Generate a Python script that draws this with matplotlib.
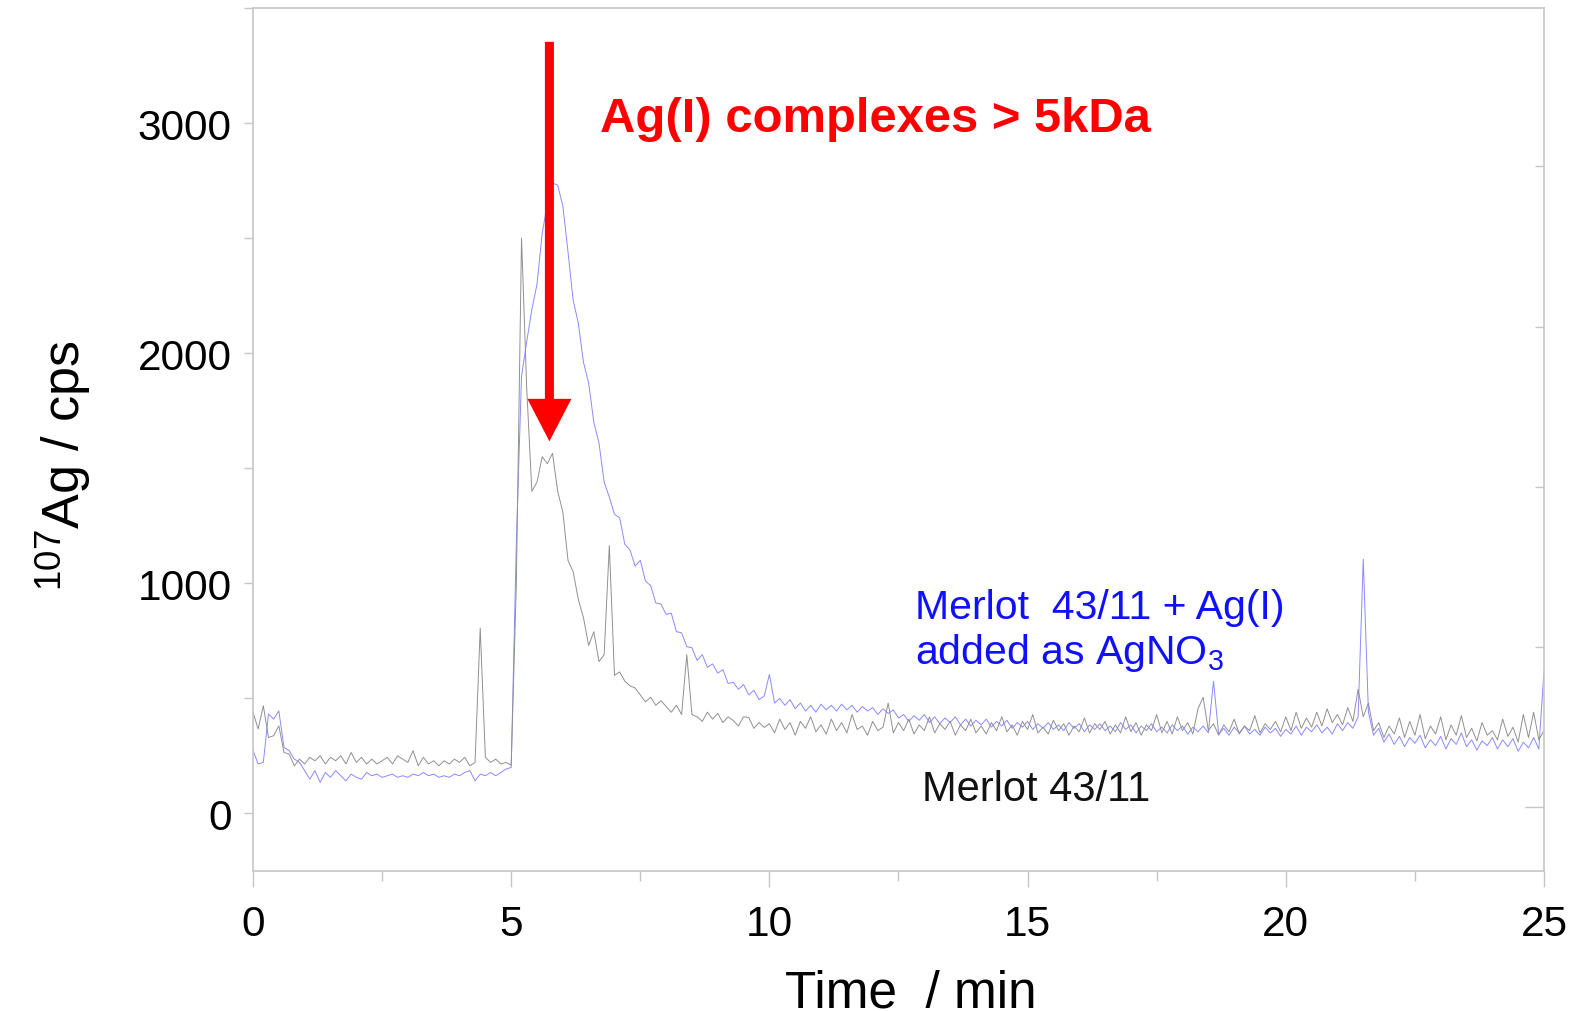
import numpy as np
import matplotlib
matplotlib.use("Agg")
import matplotlib.pyplot as plt
from matplotlib.ticker import MultipleLocator, FixedLocator, NullFormatter

plt.rcParams['font.family'] = ['Liberation Sans', 'DejaVu Sans']
plt.rcParams['mathtext.fontset'] = 'custom'
plt.rcParams['mathtext.rm'] = 'Liberation Sans'
plt.rcParams['mathtext.it'] = 'Liberation Sans:italic'
plt.rcParams['mathtext.bf'] = 'Liberation Sans:bold'

# sampling grid of the chromatograms (min)
time_min = np.round(np.arange(0, 25.01, 0.1), 1)

# Merlot 43/11 (grey trace), cps
merlot = (
    [440, 367, 468, 330, 338, 381, 265, 258, 207, 236,
     215, 244, 229, 251, 215, 244, 229, 251, 215, 265,
     222, 244, 215, 236, 215, 229, 244, 215, 251, 236,
     222, 273, 207, 244, 215, 229, 207, 229, 215, 236,
     222, 244, 207, 222, 805, 244, 222, 236, 215, 222]
    + [210, 1000, 2500, 1850, 1400, 1440, 1550, 1520, 1565, 1400,
       1310, 1100, 1050, 930, 850, 730, 790, 660, 690, 1164,
       600, 615, 575, 555, 545, 515, 485, 505, 470, 490,
       465, 440, 470, 430, 690, 430, 420, 400, 440, 410,
       435, 395, 420, 404, 380, 420, 417, 370, 395, 374]
    + [390, 350, 410, 365, 395, 340, 400, 370, 420, 355,
       385, 345, 410, 360, 395, 350, 430, 365, 380, 340,
       400, 360, 375, 480, 350, 395, 360, 410, 345, 385,
       360, 420, 350, 390, 365, 400, 340, 385, 360, 410,
       350, 380, 345, 395, 360, 420, 355, 385, 340, 400,
       365, 430, 350, 375, 345, 405, 360, 390, 340, 380,
       355, 415, 350, 390, 365, 400, 345, 385, 350, 420,
       355, 395, 340, 385, 360, 430, 350, 400, 345, 420,
       360, 395, 345, 455, 505, 360, 390, 340, 385, 355,
       410, 345, 380, 360, 425, 350, 390, 365, 400, 355,
       420, 360, 440, 370, 415, 375, 440, 380, 455, 395,
       430, 385, 460, 400, 540, 420, 480, 360, 395, 330,
       380, 345, 415, 330, 400, 340, 430, 325, 380, 345,
       420, 320, 385, 340, 425, 330, 370, 315, 395, 340,
       360, 320, 410, 335, 375, 310, 430, 330, 440, 320,
       360]
)

# Merlot 43/11 + Ag(I) added as AgNO3 (blue trace), cps
merlot_ag = (
    [273, 215, 222, 432, 410, 446, 287, 273, 236, 222,
     186, 149, 186, 135, 178, 157, 186, 164, 142, 171,
     157, 149, 178, 164, 171, 157, 164, 171, 157, 164,
     157, 171, 164, 178, 164, 171, 157, 164, 157, 171,
     164, 178, 186, 142, 171, 164, 178, 164, 178, 193]
    + [200, 1180, 1900, 2050, 2190, 2300, 2520, 2650, 2740, 2730,
       2640, 2440, 2230, 2130, 1960, 1870, 1700, 1610, 1440, 1375,
       1300, 1285, 1170, 1145, 1075, 1100, 1010, 990, 915, 910,
       865, 870, 790, 785, 725, 720, 665, 690, 635, 650,
       610, 625, 565, 570, 540, 560, 515, 535, 495, 510]
    + [604, 480, 500, 470, 495, 455, 480, 445, 470, 440,
       475, 450, 470, 445, 475, 450, 470, 440, 465, 445,
       460, 430, 455, 435, 450, 415, 430, 400, 425, 405,
       430, 395, 420, 390, 415, 395, 420, 385, 410, 380,
       405, 385, 410, 375, 400, 380, 405, 370, 395, 375,
       400, 365, 390, 370, 395, 365, 385, 360, 395, 370,
       390, 355, 385, 365, 390, 360, 380, 355, 395, 365,
       385, 350, 380, 360, 390, 355, 375, 350, 385, 360,
       380, 345, 375, 355, 380, 350, 575, 345, 370, 340,
       375, 350, 380, 345, 365, 340, 375, 350, 370, 335,
       365, 345, 380, 340, 375, 355, 385, 350, 375, 345,
       390, 360, 395, 370, 420, 1105, 440, 340, 370, 310,
       345, 300, 335, 290, 330, 305, 340, 285, 320, 295,
       335, 280, 325, 300, 350, 290, 320, 275, 315, 295,
       330, 280, 320, 290, 325, 270, 310, 285, 330, 280,
       620]
)

fig = plt.figure(figsize=(15.77, 10.12), dpi=100)
ax = fig.add_axes([0.16043, 0.13834, 0.81864, 0.85277])

ax.plot(time_min, merlot_ag, color='#8a8aff', lw=0.7)
ax.plot(time_min, merlot, color='#909090', lw=0.7)

ax.set_xlim(0, 25)
ax.set_ylim(-250, 3500)

spine_col = '#c6c6c6'
for s in ax.spines.values():
    s.set_color(spine_col)
    s.set_linewidth(1.2)

ax.xaxis.set_major_locator(MultipleLocator(5))
ax.xaxis.set_minor_locator(MultipleLocator(2.5))
ax.yaxis.set_major_locator(MultipleLocator(1000))
ax.yaxis.set_minor_locator(MultipleLocator(500))
ax.set_yticks([0, 1000, 2000, 3000])
ax.tick_params(axis='x', which='major', length=11.5, width=1, color=spine_col,
               labelsize=30.5, pad=12)
ax.tick_params(axis='x', which='minor', length=7, width=1, color=spine_col)
ax.tick_params(axis='y', which='both', length=6.5, width=1, color=spine_col,
               labelsize=30.5, pad=9)

# right-hand axis carries only inward ticks
ax2 = ax.twinx()
ax2.set_ylim(-0.402, 4.99)
ax2.yaxis.set_major_locator(FixedLocator([0]))
ax2.yaxis.set_minor_locator(FixedLocator([1, 2, 3, 4]))
ax2.yaxis.set_major_formatter(NullFormatter())
ax2.tick_params(axis='y', which='major', direction='in', length=13.5, width=1, color=spine_col)
ax2.tick_params(axis='y', which='minor', direction='in', length=6.5, width=1, color=spine_col)
for s in ax2.spines.values():
    s.set_visible(False)

ax.set_xlabel('Time  / min', fontsize=37)
ax.xaxis.set_label_coords(0.5097, -0.113)
ax.set_ylabel(r'$^{\mathrm{107}}$Ag / cps', fontsize=37.5)
ax.yaxis.set_label_coords(-0.124, 0.4716)

# arrow and labels
ax.annotate('', xy=(5.74, 1617), xytext=(5.74, 3353),
            arrowprops=dict(arrowstyle='simple,head_length=3.06,head_width=3.17,tail_width=0.65',
                            color='#ff0000', lw=0, shrinkA=0, shrinkB=0, mutation_scale=10))
ax.text(6.72, 2967, 'Ag(I) complexes > 5kDa', color='#ff0000', fontsize=35.3,
        fontweight='bold', va='baseline', ha='left')
ax.text(12.82, 851, 'Merlot  43/11 + Ag(I)', color='#1010ff', fontsize=29.5,
        va='baseline', ha='left')
ax.text(12.82, 653, r'added as AgNO$_{\mathrm{3}}$', color='#1010ff', fontsize=29.5,
        va='baseline', ha='left')
ax.text(12.96, 59, 'Merlot 43/11', color='#111111', fontsize=30,
        va='baseline', ha='left')

fig.savefig('out.png', dpi=100)
